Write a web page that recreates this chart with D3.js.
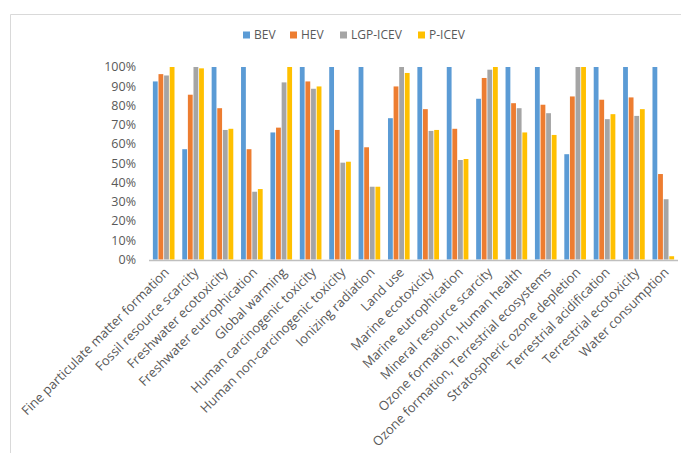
<!DOCTYPE html>
<html>
<head>
<meta charset="utf-8">
<script src="https://cdn.jsdelivr.net/npm/d3@7"></script>
<style>
  body { margin: 0; background: #fff; }
  text { font-family: "Open Sans", "Liberation Sans", sans-serif; fill: #595959; }
</style>
</head>
<body>
<div id="chart"></div>
<script>
const categories = [
  "Fine particulate matter formation", "Fossil resource scarcity", "Freshwater ecotoxicity",
  "Freshwater eutrophication", "Global warming", "Human carcinogenic toxicity",
  "Human non-carcinogenic toxicity", "Ionizing radiation", "Land use", "Marine ecotoxicity",
  "Marine eutrophication", "Mineral resource scarcity", "Ozone formation, Human health",
  "Ozone formation, Terrestrial ecosystems", "Stratospheric ozone depletion",
  "Terrestrial acidification", "Terrestrial ecotoxicity", "Water consumption"
];
const seriesNames = ["BEV", "HEV", "LGP-ICEV", "P-ICEV"];
const colors = ["#5B9BD5", "#ED7D31", "#A5A5A5", "#FFC000"];

const bev    = [0.925, 0.573, 1, 1, 0.66, 1, 1, 1, 0.734, 1, 1, 0.835, 1, 1, 0.547, 1, 1, 1];
const hev    = [0.963, 0.856, 0.786, 0.573, 0.685, 0.925, 0.673, 0.583, 0.899, 0.781, 0.679, 0.943, 0.812, 0.804, 0.847, 0.83, 0.842, 0.444];
const lgp    = [0.956, 1, 0.673, 0.352, 0.92, 0.887, 0.503, 0.378, 1, 0.668, 0.517, 0.986, 0.786, 0.76, 1, 0.729, 0.746, 0.313];
const picev  = [1, 0.993, 0.679, 0.366, 1, 0.899, 0.508, 0.378, 0.969, 0.673, 0.522, 1, 0.66, 0.647, 1, 0.755, 0.781, 0.017];
const yTicks = [0, 0.1, 0.2, 0.3, 0.4, 0.5, 0.6, 0.7, 0.8, 0.9, 1];

const allSeries = [bev, hev, lgp, picev];
const W = 681, H = 453;

const svg = d3.select("#chart").append("svg")
  .attr("width", W).attr("height", H);

// chart frame (only top and left edges are visible in the crop)
svg.append("path")
  .attr("d", "M10.5," + H + "V14.5H" + W)
  .attr("fill", "none")
  .attr("stroke", "#d9d9d9")
  .attr("stroke-width", 1);

const x0 = d3.scaleBand().domain(categories).range([149, 678]).paddingInner(0).paddingOuter(0);
const x1 = d3.scaleBand().domain(seriesNames).range([0, x0.bandwidth()]).paddingInner(0).paddingOuter(0.62);
const y = d3.scaleLinear().domain([0, 1]).range([259.5, 67]);

// y axis labels
svg.append("g").selectAll("text")
  .data(yTicks)
  .join("text")
  .attr("x", 136)
  .attr("y", d => y(d))
  .attr("dy", "0.35em")
  .attr("text-anchor", "end")
  .style("font-size", "12.5px")
  .text(d => d3.format(".0%")(d));

// bars
const groups = svg.append("g").selectAll("g")
  .data(categories)
  .join("g")
  .attr("transform", d => "translate(" + x0(d) + ",0)");

groups.selectAll("rect")
  .data((d, i) => seriesNames.map((s, k) => ({ s: s, k: k, v: allSeries[k][i] })))
  .join("rect")
  .attr("x", d => x1(d.s) + 0.4)
  .attr("width", x1.bandwidth() - 0.8)
  .attr("y", d => y(d.v))
  .attr("height", d => y(0) - y(d.v))
  .attr("fill", d => colors[d.k]);

// x axis line
svg.append("line")
  .attr("x1", 149).attr("x2", 678)
  .attr("y1", 260.5).attr("y2", 260.5)
  .attr("stroke", "#bfbfbf")
  .attr("stroke-width", 1.5);

// category labels, rotated
svg.append("g").selectAll("text")
  .data(categories)
  .join("text")
  .attr("transform", d => "translate(" + (x0(d) + x0.bandwidth() / 2 + 3) + ",270) rotate(-45)")
  .attr("text-anchor", "end")
  .attr("dy", "0.35em")
  .style("font-size", "13px")
  .text(d => d);

// legend
const legendX = [243, 290, 340, 418];
const legend = svg.append("g").selectAll("g")
  .data(seriesNames)
  .join("g")
  .attr("transform", (d, i) => "translate(" + legendX[i] + ",35)");
legend.append("rect")
  .attr("x", 0).attr("y", -3.5)
  .attr("width", 7).attr("height", 7)
  .attr("fill", (d, i) => colors[i]);
legend.append("text")
  .attr("x", 11)
  .attr("dy", "0.35em")
  .style("font-size", "12px")
  .text(d => d);
</script>
</body>
</html>
